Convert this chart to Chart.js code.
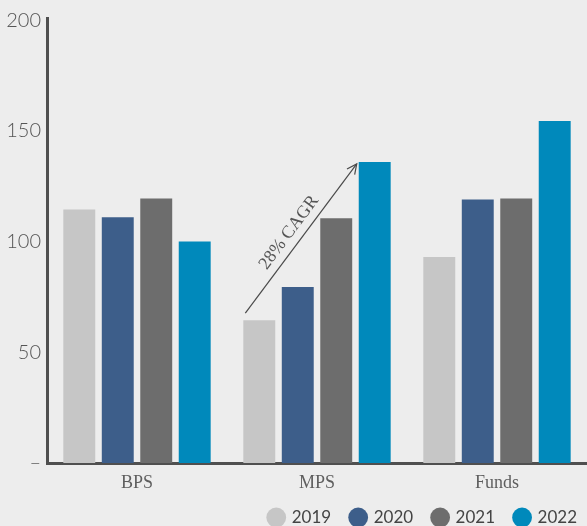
<!DOCTYPE html>
<html>
<head>
<meta charset="utf-8">
<script src="https://cdn.jsdelivr.net/npm/chart.js@4"></script>
<style>
  html, body { margin: 0; padding: 0; background: #ededed; }
  #wrap { width: 587px; height: 526px; position: relative; }
</style>
</head>
<body>
<div id="wrap"><canvas id="chart"></canvas></div>
<script>
  // ---- data ----------------------------------------------------------
  const categories = ['BPS', 'MPS', 'Funds'];
  const years = ['2019', '2020', '2021', '2022'];
  const values2019 = [114.5, 64.5, 93];
  const values2020 = [111, 79.5, 119];
  const values2021 = [119.5, 110.5, 119.5];
  const values2022 = [100, 136, 154.5];
  const yTicks = [0, 50, 100, 150, 200];
  const cagrLabel = '28% CAGR';

  const colors = ['#c6c6c6', '#3d5e8a', '#6d6d6d', '#0089bb'];
  const series = [values2019, values2020, values2021, values2022];

  // Legend items need wide horizontal spacing but a short strip, so the
  // fitted height is trimmed after Chart.js measures it, and the strip is
  // nudged flush to the right edge once the layout is done.
  const LEGEND_HEIGHT = 37;
  const LEGEND_SHIFT = 10;
  const compactLegend = {
    id: 'compactLegend',
    afterInit(chart) {
      const legend = chart.legend;
      if (!legend) return;
      const fit = legend.fit;
      legend.fit = function () {
        fit.call(this);
        this.height = LEGEND_HEIGHT;
        this.bottom = this.top + LEGEND_HEIGHT;
      };
    },
    afterLayout(chart) {
      const legend = chart.legend;
      if (!legend) return;
      legend.left += LEGEND_SHIFT;
      legend.right += LEGEND_SHIFT;
    }
  };

  // Arrow from the first to the last MPS bar, labelled with the growth rate.
  const cagrArrow = {
    id: 'cagrArrow',
    afterDatasetsDraw(chart) {
      const ctx = chart.ctx;
      const first = chart.getDatasetMeta(0).data[1];
      const last = chart.getDatasetMeta(3).data[1];
      const x0 = first.x - first.width / 2 + 2, y0 = first.y - 7;
      const x1 = last.x - last.width / 2 - 2, y1 = last.y + 2;
      const ang = Math.atan2(y1 - y0, x1 - x0);
      ctx.save();
      ctx.strokeStyle = '#4a4a4a';
      ctx.lineWidth = 1.2;
      ctx.beginPath();
      ctx.moveTo(x0, y0);
      ctx.lineTo(x1, y1);
      ctx.stroke();
      const head = 11;
      ctx.beginPath();
      ctx.moveTo(x1 - head * Math.cos(ang - 0.45), y1 - head * Math.sin(ang - 0.45));
      ctx.lineTo(x1, y1);
      ctx.lineTo(x1 - head * Math.cos(ang + 0.45), y1 - head * Math.sin(ang + 0.45));
      ctx.stroke();
      // label sits just above the line, rotated with it
      const mx = (x0 + x1) / 2 - 4, my = (y0 + y1) / 2;
      ctx.translate(mx, my);
      ctx.rotate(ang);
      ctx.fillStyle = '#555';
      ctx.font = '18px "Liberation Serif", serif';
      ctx.textAlign = 'center';
      ctx.textBaseline = 'bottom';
      ctx.fillText(cagrLabel, 0, -1);
      ctx.restore();
    }
  };

  new Chart(document.getElementById('chart'), {
    type: 'bar',
    data: {
      labels: categories,
      datasets: years.map((y, i) => ({
        label: y,
        data: series[i],
        backgroundColor: colors[i],
        borderWidth: 0,
        categoryPercentage: 0.855,
        barPercentage: 0.83,
      })),
    },
    options: {
      responsive: true,
      maintainAspectRatio: false,
      animation: false,
      layout: { padding: 0 },
      plugins: {
        tooltip: { enabled: false },
        legend: {
          position: 'bottom',
          align: 'end',
          labels: {
            usePointStyle: true,
            pointStyle: 'circle',
            boxWidth: 14,
            boxHeight: 14,
            padding: 20,
            color: '#444',
            font: { family: 'Lato, "Open Sans", sans-serif', size: 17 },
          },
        },
      },
      scales: {
        x: {
          grid: { display: false, drawTicks: false },
          border: { color: '#4f4f4f', width: 3 },
          ticks: {
            color: '#5e5e5e',
            padding: 9,
            font: { family: '"Liberation Serif", serif', size: 18 },
          },
          afterFit(scale) { scale.height = 26; },
        },
        y: {
          min: 0,
          max: 201,
          grid: { display: false, drawTicks: false },
          border: { color: '#4f4f4f', width: 3 },
          afterBuildTicks(scale) { scale.ticks = yTicks.map(v => ({ value: v })); },
          afterFit(scale) { scale.width = 47; },
          ticks: {
            color: '#555',
            padding: 6,
            font: { family: 'Lato, "Open Sans", sans-serif', size: 20, weight: 300 },
            callback: v => (v === 0 ? '–' : v),
          },
        },
      },
    },
    plugins: [compactLegend, cagrArrow],
  });
</script>
</body>
</html>
